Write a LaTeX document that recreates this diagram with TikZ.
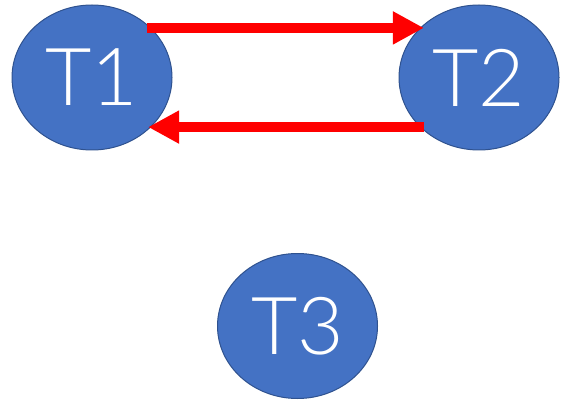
\documentclass[tikz,border=0pt]{standalone}
\usepackage{fontspec}
\setmainfont{Liberation Sans}
\newfontfamily\lightfont{Lato Light}
\usetikzlibrary{arrows.meta,shapes.geometric}
\definecolor{nodeblue}{HTML}{4472C4}
\definecolor{nodeedge}{HTML}{2F528F}
\definecolor{arrred}{HTML}{FF0000}
\tikzset{
  tnode/.style={ellipse, draw=nodeedge, line width=1pt, fill=nodeblue,
    minimum width=160pt, minimum height=145pt, inner sep=0pt,
    text=white, font=\lightfont\fontsize{80}{82}\selectfont},
  redarrow/.style={draw=arrred, line width=10pt,
    -{Triangle[length=31pt,width=31pt]}}
}
\begin{document}
\begin{tikzpicture}[x=1pt,y=1pt]
\useasboundingbox (0,0) rectangle (569,402);
\node[tnode] (t1) at (92,324.5) {T1};
\node[tnode] (t2) at (479,324.5) {T2};
\node[tnode] (t3) at (297.5,76) {T3};
\draw[redarrow] ([xshift=-4pt]t1.40) -- ([xshift=4pt]t2.140);
\draw[redarrow] ([xshift=4pt]t2.220) -- ([xshift=-3pt]t1.-40);
\end{tikzpicture}
\end{document}
